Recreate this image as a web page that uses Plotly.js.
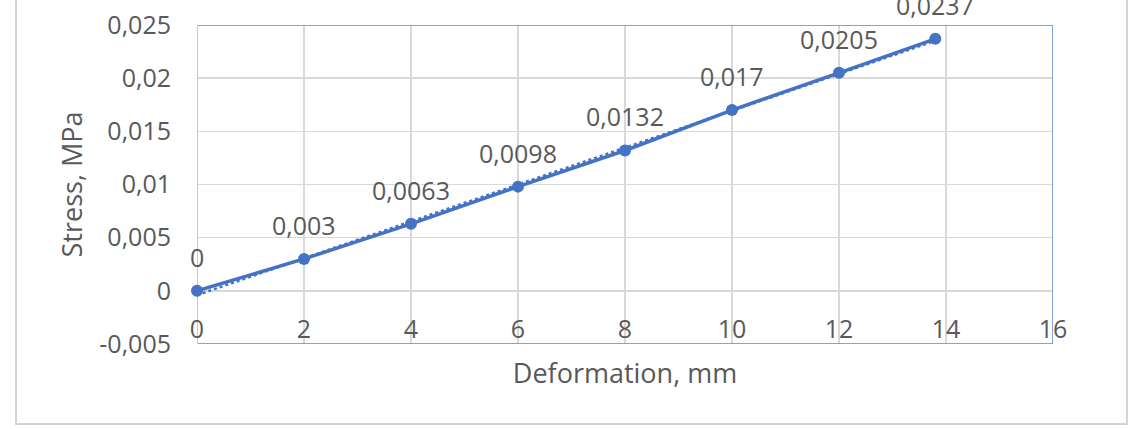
<!DOCTYPE html>
<html>
<head>
<meta charset="utf-8">
<script src="https://cdn.plot.ly/plotly-3.0.1.min.js"></script>
<style>
html,body{margin:0;padding:0;background:#fff;}
#chart{width:1139px;height:429px;}
</style>
</head>
<body>
<div id="chart"></div>
<script>
// Data
const deformation = [0, 2, 4, 6, 8, 10, 12, 13.8];
const stress = [0, 0.003, 0.0063, 0.0098, 0.0132, 0.017, 0.0205, 0.0237];
const yTickVals = [-0.005, 0, 0.005, 0.01, 0.015, 0.02, 0.025];
const yTickText = ["-0,005", "0", "0,005", "0,01", "0,015", "0,02", "0,025"];
const xTickVals = [0, 2, 4, 6, 8, 10, 12, 14, 16];
const xTickText = ["0", "2", "4", "6", "8", "10", "12", "14", "16"];

const BLUE = '#4472C4';
const TXT = '#595959';
const FONT = 'Open Sans, Noto Sans, sans-serif';

// linear trendline (least squares) from the data
const n = deformation.length;
const mx = deformation.reduce((a,b)=>a+b,0)/n;
const my = stress.reduce((a,b)=>a+b,0)/n;
let sxy=0, sxx=0;
for (let i=0;i<n;i++){ sxy += (deformation[i]-mx)*(stress[i]-my); sxx += (deformation[i]-mx)**2; }
const slope = sxy/sxx, icpt = my - slope*mx;
const trendX = [deformation[0], deformation[n-1]];
const trendY = trendX.map(x => icpt + slope*x);

const fmt = v => String(v).replace('.', ',');

const traces = [
  {x: trendX, y: trendY, mode: 'lines', type: 'scatter',
   line: {color: BLUE, width: 2.5, dash: 'dot'}, hoverinfo: 'skip', cliponaxis: false},
  {x: deformation, y: stress, mode: 'lines+markers', type: 'scatter',
   line: {color: BLUE, width: 3.5}, marker: {color: BLUE, size: 12}, cliponaxis: false}
];

const annotations = deformation.map((x, i) => ({
  x: x, y: stress[i], xref: 'x', yref: 'y', text: fmt(stress[i]),
  showarrow: false, yshift: 34, font: {family: FONT, size: 25, color: TXT}
}));

const layout = {
  width: 1139, height: 429,
  margin: {l: 197, r: 86, t: 25, b: 85},
  paper_bgcolor: '#fff', plot_bgcolor: '#fff',
  showlegend: false,
  font: {family: FONT, size: 25, color: TXT},
  xaxis: {
    range: [0, 16], tickvals: xTickVals, ticktext: xTickText,
    anchor: 'free', position: 0.1, side: 'bottom',
    showgrid: true, gridcolor: '#d9d9d9', gridwidth: 1.5,
    zeroline: false, showline: false, ticks: '',
    ticklabelstandoff: 0,
    tickfont: {family: FONT, size: 25, color: TXT},
    title: {text: 'Deformation, mm', standoff: 20, font: {family: FONT, size: 27, color: TXT}},
    automargin: false, fixedrange: true
  },
  yaxis: {
    range: [-0.005001, 0.025001], tickvals: yTickVals, ticktext: yTickText,
    showgrid: true, gridcolor: '#d9d9d9', gridwidth: 1.5,
    zeroline: true, zerolinecolor: '#d9d9d9', zerolinewidth: 1.5,
    showline: false, ticks: '', ticklabelstandoff: 25,
    tickfont: {family: FONT, size: 25, color: TXT},
    title: {text: 'Stress, MPa', standoff: 8, font: {family: FONT, size: 27, color: TXT}},
    automargin: false, fixedrange: true
  },
  shapes: [
    {type: 'rect', xref: 'paper', yref: 'paper', x0: -0.2114, x1: 1.0864, y0: -0.2508, y1: 1.2,
     line: {color: '#d4d4d4', width: 2}, fillcolor: 'rgba(0,0,0,0)', layer: 'below'},
    {type: 'rect', xref: 'x', yref: 'y', x0: 0, x1: 16, y0: -0.005, y1: 0.025,
     line: {color: '#5B86C8', width: 1.5}, fillcolor: 'rgba(0,0,0,0)', layer: 'between'},
    {type: 'line', xref: 'x', yref: 'y', x0: 0, x1: 0, y0: -0.005, y1: 0.025,
     line: {color: '#c8c8c8', width: 2}, layer: 'between'}
  ],
  annotations: annotations
};

Plotly.newPlot('chart', traces, layout, {staticPlot: true, displayModeBar: false});
</script>
</body>
</html>
